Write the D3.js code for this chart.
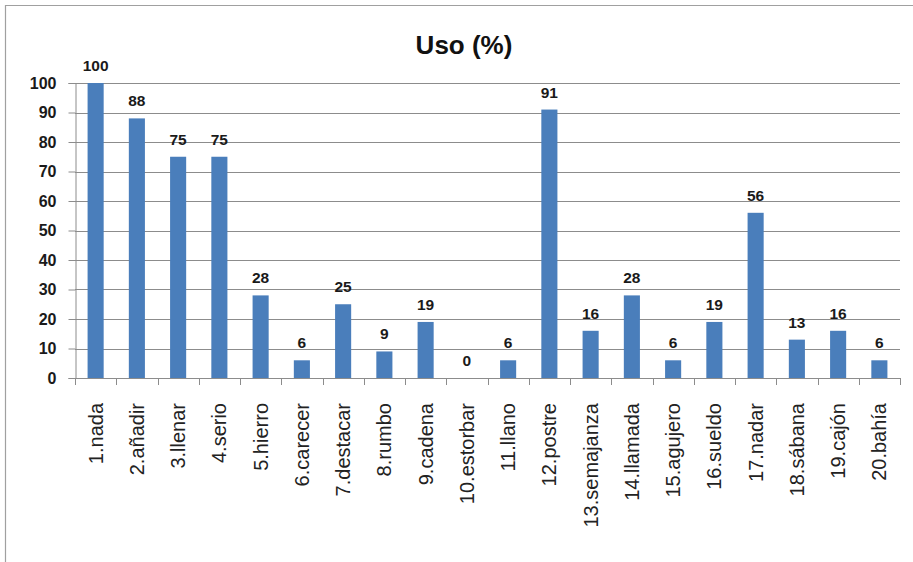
<!DOCTYPE html>
<html>
<head>
<meta charset="utf-8">
<script src="https://cdn.jsdelivr.net/npm/d3@7"></script>
<style>
  html, body { margin: 0; padding: 0; background: #ffffff; }
  svg { display: block; }
</style>
</head>
<body>
<svg id="chart" width="913" height="562"></svg>
<script>
// Palabras y porcentaje de uso
const categories = ["1.nada", "2.añadir", "3.llenar", "4.serio", "5.hierro", "6.carecer",
  "7.destacar", "8.rumbo", "9.cadena", "10.estorbar", "11.llano", "12.postre",
  "13.semajanza", "14.llamada", "15.agujero", "16.sueldo", "17.nadar", "18.sábana",
  "19.cajón", "20.bahía"];
const usage = [100, 88, 75, 75, 28, 6, 25, 9, 19, 0, 6, 91, 16, 28, 6, 19, 56, 13, 16, 6];
const yTicks = [0, 10, 20, 30, 40, 50, 60, 70, 80, 90, 100];
const title = "Uso (%)";

const svg = d3.select("#chart");
const plotLeft = 75, plotRight = 900, plotTop = 83, plotBottom = 378;

// outer frame of the chart area
svg.append("path")
  .attr("d", "M5.5,562 L5.5,5.5 L913,5.5")
  .attr("fill", "none")
  .attr("stroke", "#a0a0a0")
  .attr("stroke-width", 1.2);

const x = d3.scaleBand().domain(categories).range([plotLeft, plotRight]).paddingInner(0.61).paddingOuter(0.305);
const y = d3.scaleLinear().domain([0, 100]).range([plotBottom, plotTop]);

// gridlines
svg.append("g")
  .selectAll("line")
  .data(yTicks.filter(d => d > 0))
  .join("line")
  .attr("x1", plotLeft).attr("x2", plotRight)
  .attr("y1", d => Math.round(y(d)) + 0.5).attr("y2", d => Math.round(y(d)) + 0.5)
  .attr("stroke", "#8c8c8c").attr("stroke-width", 1);

// y axis
const yAxis = svg.append("g")
  .attr("transform", `translate(${plotLeft + 0.5},0)`)
  .call(d3.axisLeft(y).tickValues(yTicks).tickSize(7).tickPadding(12));
yAxis.select(".domain").attr("stroke", "#8c8c8c");
yAxis.selectAll(".tick line").attr("stroke", "#8c8c8c");
yAxis.selectAll(".tick text")
  .attr("font-family", "'Liberation Sans', Arial, sans-serif")
  .attr("font-size", 16).attr("font-weight", "bold").attr("fill", "#1a1a1a");

// bars
svg.append("g")
  .selectAll("rect")
  .data(usage)
  .join("rect")
  .attr("x", (d, i) => x(categories[i]))
  .attr("width", x.bandwidth())
  .attr("y", d => y(d))
  .attr("height", d => y(0) - y(d))
  .attr("fill", "#4a7ebb");

// x axis with ticks at band boundaries
const boundaries = d3.range(categories.length + 1).map(i => plotLeft + i * (plotRight - plotLeft) / categories.length);
svg.append("line")
  .attr("x1", plotLeft).attr("x2", plotRight)
  .attr("y1", plotBottom + 0.5).attr("y2", plotBottom + 0.5)
  .attr("stroke", "#8c8c8c");
svg.append("g")
  .selectAll("line")
  .data(boundaries)
  .join("line")
  .attr("x1", d => Math.round(d) + 0.5).attr("x2", d => Math.round(d) + 0.5)
  .attr("y1", plotBottom).attr("y2", plotBottom + 7)
  .attr("stroke", "#8c8c8c");

// category labels, rotated
svg.append("g")
  .selectAll("text")
  .data(categories)
  .join("text")
  .attr("transform", d => `translate(${x(d) + x.bandwidth() / 2 + 7},${plotBottom + 25}) rotate(-90)`)
  .attr("text-anchor", "end")
  .attr("font-family", "'Liberation Sans', Arial, sans-serif")
  .attr("font-size", 20)
  .attr("fill", "#222")
  .text(d => d);

// value labels
svg.append("g")
  .selectAll("text")
  .data(usage)
  .join("text")
  .attr("x", (d, i) => x(categories[i]) + x.bandwidth() / 2)
  .attr("y", d => y(d) - 12)
  .attr("text-anchor", "middle")
  .attr("font-family", "'Liberation Sans', Arial, sans-serif")
  .attr("font-size", 15.5).attr("font-weight", "bold")
  .attr("fill", "#1a1a1a")
  .text(d => d);

// title
svg.append("text")
  .attr("x", 464).attr("y", 54)
  .attr("text-anchor", "middle")
  .attr("font-family", "'Liberation Sans', Arial, sans-serif")
  .attr("font-size", 26).attr("font-weight", "bold")
  .attr("fill", "#111")
  .text(title);
</script>
</body>
</html>
